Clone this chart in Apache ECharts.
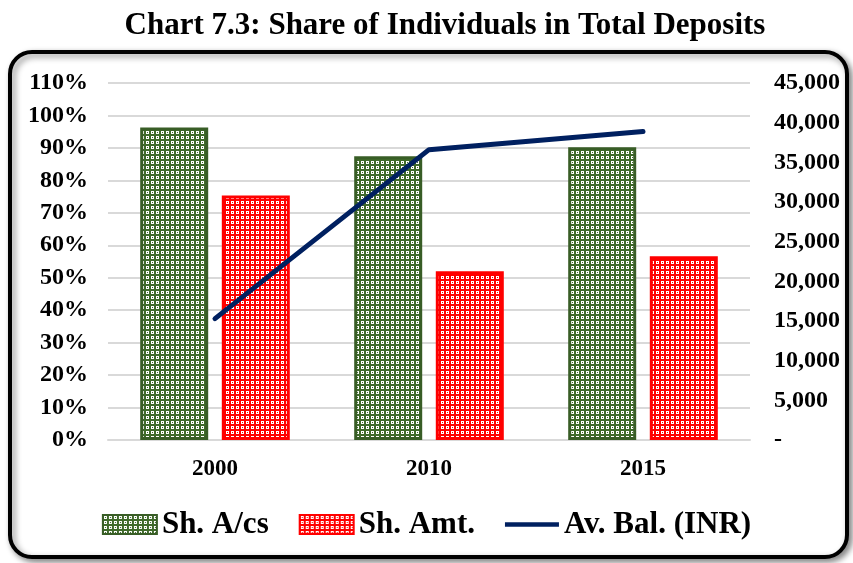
<html>
<head>
<meta charset="utf-8">
<script src="https://cdn.jsdelivr.net/npm/echarts@6/dist/echarts.min.js"></script>
<style>
  body { margin: 0; background: #fff; }
  #chartmain { width: 853px; height: 563px; }
</style>
</head>
<body>
<div id="chartmain"></div>
<script type="text/javascript">
    // data
    var years = ['2000', '2010', '2015'];
    var shAcs = [96.3, 87.4, 90.2];      // share of accounts, %
    var shAmt = [75.3, 52.0, 56.6];      // share of amount, %
    var avBal = [15300, 36600, 38900];   // average balance, INR

    var serif = 'Liberation Serif, Times New Roman, serif';

    // small tiled pattern like the excel fill
    function makePattern(bg) {
        var c = document.createElement('canvas');
        c.width = 5; c.height = 5;
        var g = c.getContext('2d');
        g.fillStyle = bg;
        g.fillRect(0, 0, 5, 5);
        g.fillStyle = '#ffffff';
        g.fillRect(1, 1, 3, 3);
        g.fillStyle = bg;
        g.fillRect(2, 2, 1, 1);
        return { image: c, repeat: 'repeat' };
    }

    window.onload = function () {
        var option = {
            backgroundColor: '#ffffff',
            animation: false,
            title: {
                text: 'Chart 7.3: Share of Individuals in Total Deposits',
                left: 440,
                textAlign: 'center',
                top: 5,
                textStyle: { fontFamily: serif, fontWeight: 'bold', fontSize: 31, color: '#000' }
            },
            graphic: [{
                type: 'rect',
                z: -10,
                shape: { x: 10, y: 52, width: 837, height: 505, r: 22 },
                style: {
                    fill: '#ffffff',
                    stroke: '#000000',
                    lineWidth: 4,
                    shadowBlur: 6,
                    shadowOffsetX: 3,
                    shadowOffsetY: 3,
                    shadowColor: 'rgba(0,0,0,0.45)'
                }
            }],
            legend: {
                bottom: 18,
                left: 'center',
                itemWidth: 54,
                itemHeight: 19,
                itemGap: 30,
                textStyle: { fontFamily: serif, fontWeight: 'bold', fontSize: 31, color: '#000' },
                data: [
                    { name: 'Sh. A/cs', icon: 'rect' },
                    { name: 'Sh. Amt.', icon: 'rect' },
                    { name: 'Av. Bal. (INR)', icon: 'path://M0,0 L60,0 L60,5 L0,5 Z' }
                ]
            },
            grid: { left: 108, right: 103, top: 83, bottom: 123 },
            xAxis: [{
                type: 'category',
                data: years,
                axisTick: { show: false },
                axisLine: { show: true, lineStyle: { color: '#d9d9d9', width: 2 } },
                axisLabel: { fontFamily: serif, fontWeight: 'bold', fontSize: 23, color: '#000', margin: 18 }
            }],
            yAxis: [{
                type: 'value',
                min: 0,
                max: 110,
                interval: 10,
                axisLine: { show: false },
                axisTick: { show: false },
                splitLine: { lineStyle: { color: '#d9d9d9', width: 2 } },
                axisLabel: {
                    fontFamily: serif, fontWeight: 'bold', fontSize: 24, color: '#000', margin: 20,
                    formatter: function (v) { return v + '%'; }
                }
            }, {
                type: 'value',
                min: 0,
                max: 45000,
                interval: 5000,
                axisLine: { show: false },
                axisTick: { show: false },
                splitLine: { show: false },
                axisLabel: {
                    fontFamily: serif, fontWeight: 'bold', fontSize: 24, color: '#000', margin: 24,
                    formatter: function (v) {
                        if (v === 0) return '-';
                        return String(v).replace(/\B(?=(\d{3})+(?!\d))/g, ',');
                    }
                }
            }],
            series: [{
                name: 'Sh. A/cs',
                type: 'bar',
                data: shAcs,
                barWidth: 68,
                barGap: '20%',
                itemStyle: { color: makePattern('#3f6a2a'), borderColor: '#385d26', borderWidth: 3 }
            }, {
                name: 'Sh. Amt.',
                type: 'bar',
                data: shAmt,
                barWidth: 68,
                itemStyle: { color: makePattern('#ff0000'), borderColor: '#ff0000', borderWidth: 3 }
            }, {
                name: 'Av. Bal. (INR)',
                type: 'line',
                yAxisIndex: 1,
                data: avBal,
                symbol: 'none',
                lineStyle: { color: '#002060', width: 5, cap: 'round' },
                itemStyle: { color: '#002060' }
            }]
        };
        var myChart = echarts.init(document.getElementById('chartmain'));
        myChart.setOption(option);
    };
</script>
</body>
</html>
